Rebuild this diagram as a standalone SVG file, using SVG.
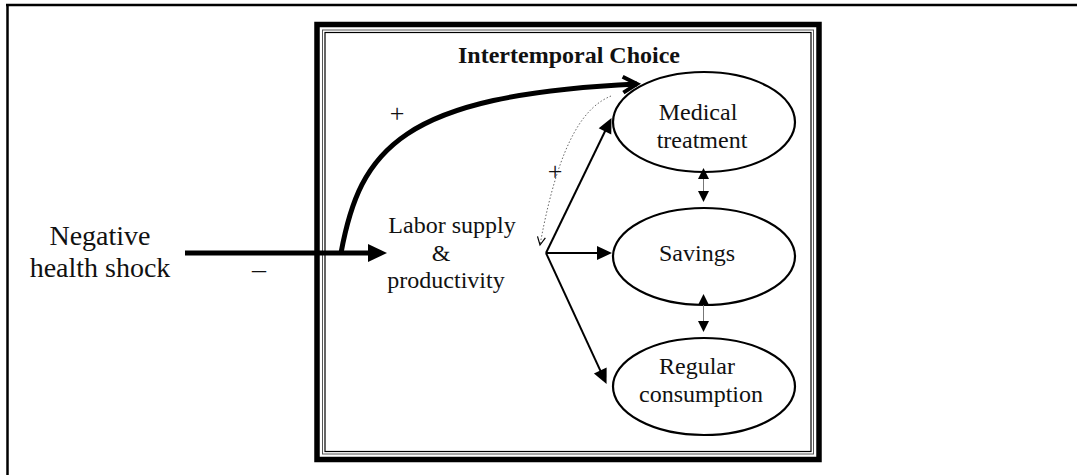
<svg xmlns="http://www.w3.org/2000/svg" width="1077" height="475" viewBox="0 0 1077 475">
  <style>
    .txt { font-family: "Liberation Serif", "Times New Roman", serif; fill: #111; }
    .node-text { font-size: 24px; text-anchor: middle; }
    .big { font-size: 28px; text-anchor: middle; }
    .title { font-size: 24px; font-weight: bold; text-anchor: middle; }
    .sign { font-size: 26px; text-anchor: middle; }
    .ell { fill: #fff; stroke: #000; stroke-width: 2.2; }
    .fan { stroke: #000; stroke-width: 2; fill: none; }
    .dbl { stroke: #777; stroke-width: 1; fill: none; }
  </style>
  <defs>
    <!-- filled heads drawn from their base, so the line ends where the head begins -->
    <marker id="tri" markerUnits="userSpaceOnUse" markerWidth="16" markerHeight="14" refX="1" refY="7" orient="auto" overflow="visible">
      <path d="M0,0 L15,7 L0,14 z" fill="#000"/>
    </marker>
    <marker id="triBig" markerUnits="userSpaceOnUse" markerWidth="20" markerHeight="18" refX="1" refY="9" orient="auto" overflow="visible">
      <path d="M0,0 L19,9 L0,18 z" fill="#000"/>
    </marker>
    <marker id="triSmall" markerUnits="userSpaceOnUse" markerWidth="12" markerHeight="12" refX="1" refY="5.5" orient="auto-start-reverse" overflow="visible">
      <path d="M0,0 L11,5.5 L0,11 z" fill="#000"/>
    </marker>
    <marker id="chev" markerUnits="userSpaceOnUse" markerWidth="16" markerHeight="16" refX="14" refY="7" orient="auto" overflow="visible">
      <path d="M0,-1 L14,7 L0,15" fill="none" stroke="#000" stroke-width="4" stroke-linejoin="miter"/>
    </marker>
    <marker id="chevThin" markerUnits="userSpaceOnUse" markerWidth="10" markerHeight="10" refX="8" refY="4" orient="auto" overflow="visible">
      <path d="M0,0 L8,4 L0,8" fill="none" stroke="#000" stroke-width="1.2"/>
    </marker>
  </defs>

  <rect x="0" y="0" width="1077" height="475" fill="#fff"/>

  <!-- outer page frame (top and left rules) -->
  <g id="page-frame" stroke="#000" stroke-width="2.5" fill="none">
    <line x1="6" y1="5" x2="1077" y2="5"/>
    <line x1="7.5" y1="4" x2="7.5" y2="475"/>
  </g>

  <!-- intertemporal choice box: thick rule plus double thin rule -->
  <g id="choice-box" fill="none">
    <rect x="317" y="24.5" width="502" height="435" stroke="#000" stroke-width="5.5"/>
    <rect x="322.5" y="30" width="491" height="424" stroke="#555" stroke-width="1"/>
    <rect x="325" y="32.5" width="486" height="419" stroke="#000" stroke-width="1.2"/>
    <text class="txt title" x="569" y="63">Intertemporal Choice</text>
  </g>

  <!-- source -->
  <g id="shock">
    <text class="txt big" x="100" y="245">Negative</text>
    <text class="txt big" x="100" y="277">health shock</text>
  </g>

  <g id="labor">
    <text class="txt node-text" x="452" y="233">Labor supply</text>
    <text class="txt node-text" x="441" y="261">&amp;</text>
    <text class="txt node-text" x="446" y="288">productivity</text>
  </g>

  <g id="medical">
    <ellipse class="ell" cx="704" cy="122" rx="91" ry="50"/>
    <text class="txt node-text" x="698" y="120">Medical</text>
    <text class="txt node-text" x="702" y="148">treatment</text>
  </g>

  <g id="savings">
    <ellipse class="ell" cx="704" cy="256.5" rx="91" ry="48.5"/>
    <text class="txt node-text" x="697" y="261">Savings</text>
  </g>

  <g id="consumption">
    <ellipse class="ell" cx="704" cy="386.5" rx="91" ry="48.5"/>
    <text class="txt node-text" x="697" y="374">Regular</text>
    <text class="txt node-text" x="701" y="402">consumption</text>
  </g>

  <!-- connectors -->
  <g id="connectors">
    <!-- shock to labor supply (negative effect) -->
    <line x1="185" y1="253" x2="369" y2="253" stroke="#000" stroke-width="5" marker-end="url(#triBig)"/>
    <!-- shock to medical treatment (positive effect) -->
    <path d="M341,253 C360,150 400,95 637,84" fill="none" stroke="#000" stroke-width="5" marker-end="url(#chev)"/>
    <!-- medical treatment feeding back to labor supply -->
    <path d="M611,96 C587,106 560,135 540,245" fill="none" stroke="#666" stroke-width="1" stroke-dasharray="1.5,2" marker-end="url(#chevThin)"/>
    <!-- labor supply fan-out -->
    <line class="fan" x1="546" y1="253" x2="605.4" y2="130.5" marker-end="url(#tri)"/>
    <line class="fan" x1="546" y1="253" x2="598" y2="253" marker-end="url(#tri)"/>
    <line class="fan" x1="546" y1="253" x2="600.7" y2="371.4" marker-end="url(#tri)"/>
    <!-- two-way links between choices -->
    <line class="dbl" x1="703.5" y1="178" x2="703.5" y2="192" marker-start="url(#triSmall)" marker-end="url(#triSmall)"/>
    <line class="dbl" x1="703.5" y1="304" x2="703.5" y2="322" marker-start="url(#triSmall)" marker-end="url(#triSmall)"/>
  </g>

  <!-- sign labels -->
  <g id="signs">
    <text class="txt sign" x="397" y="122">+</text>
    <text class="txt sign" x="555" y="180">+</text>
    <text class="txt big" x="259" y="278">–</text>
  </g>
</svg>
